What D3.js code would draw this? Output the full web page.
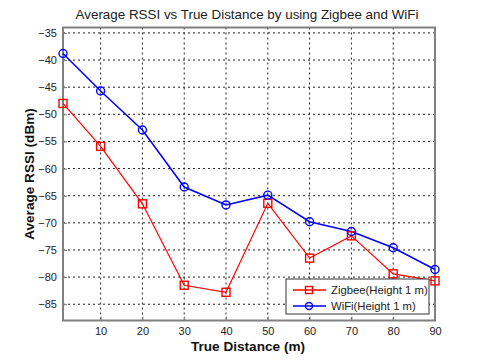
<!DOCTYPE html>
<html>
<head>
<meta charset="utf-8">
<script src="https://cdn.jsdelivr.net/npm/d3@7"></script>
<style>
body{margin:0;background:#fff;}
svg{font-family:"Liberation Sans",Arial,sans-serif;}
.grid line{stroke:#222;stroke-dasharray:2,3;stroke-width:1;}
.axis path,.axis line{stroke:#808080;}
.axis text{fill:#222;font-size:11px;}
</style>
</head>
<body>
<script>
var distance=[1,10,20,30,40,50,60,70,80,90];
var zigbee=[-48.0,-55.9,-66.5,-81.5,-82.8,-66.4,-76.5,-72.4,-79.4,-80.7];
var wifi=[-38.8,-45.7,-52.9,-63.4,-66.7,-64.9,-69.8,-71.6,-74.6,-78.6];
var xTicks=[10,20,30,40,50,60,70,80,90];
var yTicks=[-35,-40,-45,-50,-55,-60,-65,-70,-75,-80,-85];

var width=480,height=360;
var plotLeft=63,plotRight=435,plotTop=27.5,plotBottom=320.5;

var svg=d3.select('body').append('svg')
	.attr('width',width)
	.attr('height',height);

var x=d3.scaleLinear().domain([1,90]).range([plotLeft,plotRight]);
var y=d3.scaleLinear().domain([-88,-34]).range([plotBottom,plotTop]);

// grid
var grid=svg.append('g').attr('class','grid');
grid.selectAll('.gx').data(xTicks).enter().append('line')
	.attr('x1',function(d){return x(d);}).attr('x2',function(d){return x(d);})
	.attr('y1',plotTop).attr('y2',plotBottom);
grid.selectAll('.gy').data(yTicks).enter().append('line')
	.attr('x1',plotLeft).attr('x2',plotRight)
	.attr('y1',function(d){return y(d);}).attr('y2',function(d){return y(d);});

// frame
svg.append('rect').attr('x',plotLeft).attr('y',plotTop)
	.attr('width',plotRight-plotLeft).attr('height',plotBottom-plotTop)
	.attr('fill','none').attr('stroke','#808080').attr('stroke-width',2);

var xAxis=d3.axisBottom(x).tickValues(xTicks).tickSize(-4).tickPadding(7);
var yAxis=d3.axisLeft(y).tickValues(yTicks).tickSize(-4).tickPadding(6);
svg.append('g').attr('class','axis').attr('transform','translate(0,'+plotBottom+')').call(xAxis)
	.call(function(g){g.select('.domain').remove();});
svg.append('g').attr('class','axis').attr('transform','translate('+plotLeft+',0)').call(yAxis)
	.call(function(g){g.select('.domain').remove();});

// series
var line=d3.line()
	.x(function(d,i){return x(distance[i]);})
	.y(function(d){return y(d);});

svg.append('path').datum(zigbee).attr('d',line)
	.attr('fill','none').attr('stroke','#ff0000').attr('stroke-width',1.2);
svg.append('path').datum(wifi).attr('d',line)
	.attr('fill','none').attr('stroke','#0000ff').attr('stroke-width',1.5);

svg.selectAll('.sq').data(zigbee).enter().append('rect')
	.attr('x',function(d,i){return x(distance[i])-4;})
	.attr('y',function(d){return y(d)-4;})
	.attr('width',8).attr('height',8)
	.attr('fill','none').attr('stroke','#ff0000').attr('stroke-width',1.4);
svg.selectAll('.ci').data(wifi).enter().append('circle')
	.attr('cx',function(d,i){return x(distance[i]);})
	.attr('cy',function(d){return y(d);})
	.attr('r',4)
	.attr('fill','none').attr('stroke','#0000ff').attr('stroke-width',1.4);

// legend
var lg=svg.append('g');
lg.append('rect').attr('x',286).attr('y',279).attr('width',143).attr('height',35)
	.attr('fill','#fff').attr('stroke','#333').attr('stroke-width',1);
var legendItems=[
	{name:'Zigbee(Height 1 m)',color:'#ff0000',shape:'square'},
	{name:'WiFi(Height 1 m)',color:'#0000ff',shape:'circle'}
];
legendItems.forEach(function(d,i){
	var cy=290+i*16;
	lg.append('line').attr('x1',293).attr('x2',326).attr('y1',cy).attr('y2',cy)
		.attr('stroke',d.color).attr('stroke-width',1.5);
	if(d.shape==='square'){
		lg.append('rect').attr('x',305.5).attr('y',cy-3.5).attr('width',7).attr('height',7)
			.attr('fill','none').attr('stroke',d.color).attr('stroke-width',1.4);
	}else{
		lg.append('circle').attr('cx',309).attr('cy',cy).attr('r',3.5)
			.attr('fill','none').attr('stroke',d.color).attr('stroke-width',1.4);
	}
	lg.append('text').attr('x',331).attr('y',cy+4).attr('font-size','11.3px').attr('fill','#222')
		.text(d.name);
});

// titles
svg.append('text').attr('x',247).attr('y',19).attr('text-anchor','middle')
	.attr('font-size','13.4px').attr('fill','#222')
	.text('Average RSSI vs True Distance by using Zigbee and WiFi');
svg.append('text').attr('x',248).attr('y',351).attr('text-anchor','middle')
	.attr('font-size','13.6px').attr('font-weight','bold').attr('fill','#111')
	.text('True Distance (m)');
svg.append('text').attr('transform','translate(34,'+((plotTop+plotBottom)/2)+') rotate(-90)')
	.attr('text-anchor','middle')
	.attr('font-size','13.6px').attr('font-weight','bold').attr('fill','#111')
	.text('Average RSSI (dBm)');
</script>
</body>
</html>
